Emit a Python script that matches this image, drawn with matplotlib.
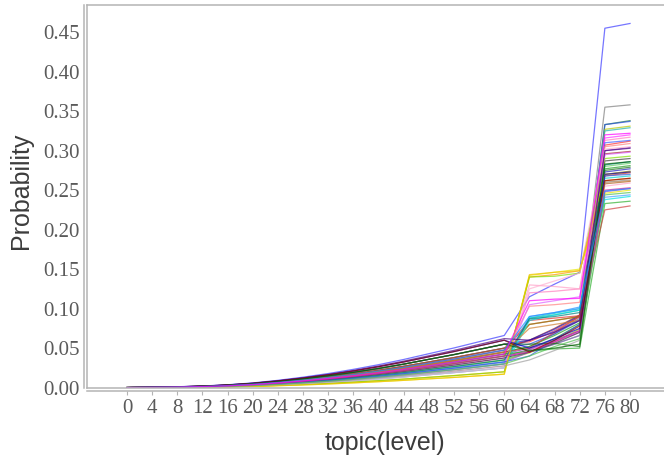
import matplotlib
matplotlib.use("Agg")
import matplotlib.pyplot as plt

# topic levels on the x axis
topics = [0, 4, 8, 12, 16, 20, 24, 28, 32, 36, 40, 44, 48, 52, 56, 60, 64, 68, 72, 76, 80]

# probability per topic level, one row per line
probability = [
    [0, .0005, .0011, .0020, .0036, .0059, .0092, .0132, .0178, .0231, .0290, .0356, .0429, .0502, .0581, .0660, .115, .131, .146, .455, .461],
    [0, .0004, .0007, .0014, .0025, .0041, .0063, .0090, .0122, .0158, .0198, .0243, .0293, .0342, .0396, .0450, .052, .068, .088, .355, .358],
    [0, .0003, .0006, .0012, .0022, .0036, .0056, .0080, .0108, .0140, .0176, .0216, .0260, .0304, .0352, .0400, .048, .062, .080, .333, .338],
    [0, .0004, .0008, .0015, .0028, .0045, .0070, .0100, .0135, .0175, .0220, .0270, .0325, .0380, .0440, .0500, .055, .068, .085, .333, .337],
    [0, .0003, .0006, .0011, .0019, .0032, .0049, .0070, .0095, .0123, .0154, .0189, .0228, .0266, .0308, .0350, .044, .058, .074, .327, .331],
    [0, .0002, .0005, .0009, .0017, .0027, .0042, .0060, .0081, .0105, .0132, .0162, .0195, .0228, .0264, .0300, .088, .092, .098, .325, .329],
    [0, .0003, .0006, .0011, .0021, .0034, .0052, .0075, .0101, .0131, .0165, .0203, .0244, .0285, .0330, .0375, .048, .058, .070, .316, .320],
    [0, .0002, .0004, .0008, .0014, .0023, .0035, .0050, .0068, .0088, .0110, .0135, .0163, .0190, .0220, .0250, .120, .122, .125, .313, .317],
    [0, .0004, .0009, .0017, .0030, .0050, .0077, .0110, .0149, .0193, .0242, .0297, .0358, .0418, .0484, .0550, .058, .072, .090, .307, .312],
    [0, .0004, .0008, .0014, .0026, .0043, .0066, .0095, .0128, .0166, .0209, .0257, .0309, .0361, .0418, .0475, .060, .071, .086, .310, .313],
    [0, .0003, .0007, .0013, .0023, .0038, .0060, .0085, .0115, .0149, .0187, .0230, .0276, .0323, .0374, .0425, .103, .105, .108, .305, .309],
    [0, .0004, .0008, .0015, .0028, .0045, .0070, .0100, .0135, .0175, .0220, .0270, .0325, .0380, .0440, .0500, .060, .075, .092, .296, .299],
    [0, .0003, .0007, .0013, .0023, .0038, .0060, .0085, .0115, .0149, .0187, .0230, .0276, .0323, .0374, .0425, .050, .060, .072, .300, .304],
    [0, .0003, .0006, .0011, .0019, .0032, .0049, .0070, .0095, .0123, .0154, .0189, .0228, .0266, .0308, .0350, .045, .055, .066, .280, .284],
    [0, .0004, .0007, .0014, .0025, .0041, .0063, .0090, .0122, .0158, .0198, .0243, .0293, .0342, .0396, .0450, .052, .066, .082, .277, .281],
    [0, .0004, .0009, .0017, .0030, .0050, .0077, .0110, .0149, .0193, .0242, .0297, .0358, .0418, .0484, .0550, .060, .074, .091, .273, .277],
    [0, .0003, .0006, .0012, .0022, .0036, .0056, .0080, .0108, .0140, .0176, .0216, .0260, .0304, .0352, .0400, .080, .085, .090, .270, .274],
    [0, .0004, .0008, .0014, .0026, .0043, .0066, .0095, .0128, .0166, .0209, .0257, .0309, .0361, .0418, .0475, .085, .088, .091, .268, .272],
    [0, .0002, .0005, .0009, .0017, .0027, .0042, .0060, .0081, .0105, .0132, .0162, .0195, .0228, .0264, .0300, .088, .094, .100, .265, .268],
    [0, .0002, .0003, .0006, .0011, .0018, .0028, .0040, .0054, .0070, .0088, .0108, .0130, .0152, .0176, .0200, .140, .143, .148, .262, .265],
    [0, .0004, .0008, .0015, .0028, .0045, .0070, .0100, .0135, .0175, .0220, .0270, .0325, .0380, .0440, .0500, .080, .085, .090, .258, .261],
    [0, .0002, .0004, .0008, .0015, .0025, .0038, .0055, .0074, .0096, .0121, .0149, .0179, .0209, .0242, .0275, .130, .128, .125, .255, .259],
    [0, .0003, .0005, .0010, .0018, .0029, .0046, .0065, .0088, .0114, .0143, .0176, .0211, .0247, .0286, .0325, .045, .055, .066, .248, .252],
    [0, .0001, .0003, .0005, .0009, .0015, .0024, .0034, .0046, .0060, .0075, .0092, .0111, .0129, .0150, .0170, .142, .146, .150, .246, .250],
    [0, .0003, .0005, .0010, .0018, .0029, .0046, .0065, .0088, .0114, .0143, .0176, .0211, .0247, .0286, .0325, .090, .095, .100, .241, .244],
    [0, .0002, .0004, .0008, .0014, .0023, .0035, .0050, .0068, .0088, .0110, .0135, .0163, .0190, .0220, .0250, .085, .092, .098, .238, .242],
    [0, .0003, .0007, .0013, .0023, .0038, .0060, .0085, .0115, .0149, .0187, .0230, .0276, .0323, .0374, .0425, .046, .049, .050, .233, .236],
    [0, .0004, .0007, .0014, .0025, .0041, .0063, .0090, .0122, .0158, .0198, .0243, .0293, .0342, .0396, .0450, .050, .070, .090, .225, .230],
    [0, .0003, .0006, .0011, .0021, .0034, .0052, .0075, .0101, .0131, .0165, .0203, .0244, .0285, .0330, .0375, .045, .056, .070, .287, .290],
    [0, .0002, .0003, .0006, .0011, .0018, .0028, .0040, .0054, .0070, .0088, .0108, .0130, .0152, .0176, .0200, .140, .141, .145, .290, .293],
    [0, .0002, .0004, .0008, .0014, .0023, .0035, .0050, .0068, .0088, .0110, .0135, .0163, .0190, .0220, .0250, .125, .135, .145, .302, .305],
    [0, .0002, .0005, .0009, .0017, .0027, .0042, .0060, .0081, .0105, .0132, .0162, .0195, .0228, .0264, .0300, .105, .110, .115, .295, .298],
    [0, .0003, .0006, .0011, .0019, .0032, .0049, .0070, .0095, .0123, .0154, .0189, .0228, .0266, .0308, .0350, .087, .090, .095, .282, .286],
    [0, .0004, .0009, .0017, .0030, .0050, .0077, .0110, .0149, .0193, .0242, .0297, .0358, .0418, .0484, .0550, .055, .056, .052, .275, .279],
    [0, .0003, .0005, .0010, .0018, .0029, .0046, .0065, .0088, .0114, .0143, .0176, .0211, .0247, .0286, .0325, .040, .060, .080, .268, .270],
    [0, .0004, .0007, .0014, .0025, .0041, .0063, .0090, .0122, .0158, .0198, .0243, .0293, .0342, .0396, .0450, .075, .080, .085, .260, .262],
    [0, .0001, .0003, .0005, .0009, .0015, .0024, .0034, .0046, .0060, .0075, .0092, .0111, .0129, .0150, .0170, .143, .146, .148, .270, .273],
    [0, .0002, .0004, .0008, .0015, .0025, .0038, .0055, .0074, .0096, .0121, .0149, .0179, .0209, .0242, .0275, .035, .047, .060, .260, .263],
    [0, .0002, .0005, .0009, .0017, .0027, .0042, .0060, .0081, .0105, .0132, .0162, .0195, .0228, .0264, .0300, .040, .052, .062, .244, .247],
    [0, .0003, .0006, .0012, .0022, .0036, .0056, .0080, .0108, .0140, .0176, .0216, .0260, .0304, .0352, .0400, .045, .058, .072, .250, .253],
    [0, .0005, .0010, .0018, .0033, .0054, .0084, .0120, .0162, .0210, .0264, .0324, .0390, .0456, .0528, .0600, .050, .062, .075, .270, .273],
    [0, .0005, .0010, .0019, .0034, .0056, .0087, .0124, .0167, .0217, .0273, .0335, .0403, .0471, .0546, .0620, .060, .070, .085, .300, .303],
    [0, .0005, .0010, .0018, .0033, .0054, .0084, .0120, .0162, .0210, .0264, .0324, .0390, .0456, .0528, .0600, .045, .060, .078, .262, .265],
    [0, .0004, .0009, .0017, .0030, .0050, .0077, .0110, .0149, .0193, .0242, .0297, .0358, .0418, .0484, .0550, .047, .050, .055, .283, .286],
    [0, .0004, .0008, .0014, .0026, .0043, .0066, .0095, .0128, .0166, .0209, .0257, .0309, .0361, .0418, .0475, .090, .095, .102, .249, .252],
    [0, .0003, .0007, .0013, .0023, .0038, .0060, .0085, .0115, .0149, .0187, .0230, .0276, .0323, .0374, .0425, .110, .112, .113, .320, .322],
]

line_colors = [
    '#3c3cff', '#7f7f7f', '#1e7a3c', '#2850e0', '#b8c800', '#20b2aa', '#ff30ff', '#ff7fbf',
    '#ff3030', '#4060ff', '#ff8080', '#a02828', '#8040c0', '#60d060', '#20a020', '#2020c0',
    '#909000', '#e03030', '#00d0d0', '#ff9900', '#b06020', '#ffa0c8', '#9050d0', '#e8e800',
    '#40a0ff', '#00e0e0', '#30b030', '#d04040', '#404040', '#80e000', '#ffb0d0', '#e060ff',
    '#008080', '#207020', '#3060e0', '#d08030', '#f0c000', '#a0a0a0', '#50c050', '#d020a0',
    '#0000c0', '#4b0082', '#8b0000', '#006400', '#1e90ff', '#ff00ff',
]

y_ticks = [0.00, 0.05, 0.10, 0.15, 0.20, 0.25, 0.30, 0.35, 0.40, 0.45]

fig = plt.figure(figsize=(6.64, 4.61), dpi=100)
ax = fig.add_axes([87 / 664, 73 / 461, 581 / 664, 383 / 461])

for row, c in zip(probability, line_colors):
    ax.plot(topics, row, color=c, lw=0.9, alpha=0.7)

ax.set_xlim(-6.36, 86.04)
ax.set_ylim(-0.0005, 0.4844)

frame = '#b4b4b4'
for s in ax.spines.values():
    s.set_color(frame)
    s.set_linewidth(1.1)
ax.spines['right'].set_visible(False)
ax.spines['left'].set_position(('outward', 2.2))
ax.spines['bottom'].set_position(('outward', 2.2))
# inner lines of the double frame
ax.plot([0, 0], [0, 1], transform=ax.transAxes, color=frame, lw=1.1, clip_on=False)
ax.plot([0, 1], [0, 0], transform=ax.transAxes, color=frame, lw=1.1, clip_on=False)

ax.set_xticks(topics)
ax.set_xticklabels([str(t) for t in topics])
ax.set_yticks(y_ticks)
ax.set_yticklabels([f'{v:.2f}' for v in y_ticks])
ax.tick_params(axis='x', direction='out', length=3, width=0.8, color=frame, pad=3)
ax.tick_params(axis='y', length=0, pad=3)
for lab in ax.get_xticklabels() + ax.get_yticklabels():
    lab.set_fontfamily('Liberation Serif')
    lab.set_fontsize(15)
    lab.set_color('#5a5a5a')

fig.text(21 / 664, 1 - 191 / 461, 'Probability', rotation=90, ha='center', va='center',
         fontsize=18, family='Liberation Sans', color='#3c3c3c')
fig.text(385 / 664, 1 - 443 / 461, 'topic(level)', ha='center', va='center',
         fontsize=18, family='Liberation Sans', color='#3c3c3c')

fig.savefig('out.png', dpi=100)
